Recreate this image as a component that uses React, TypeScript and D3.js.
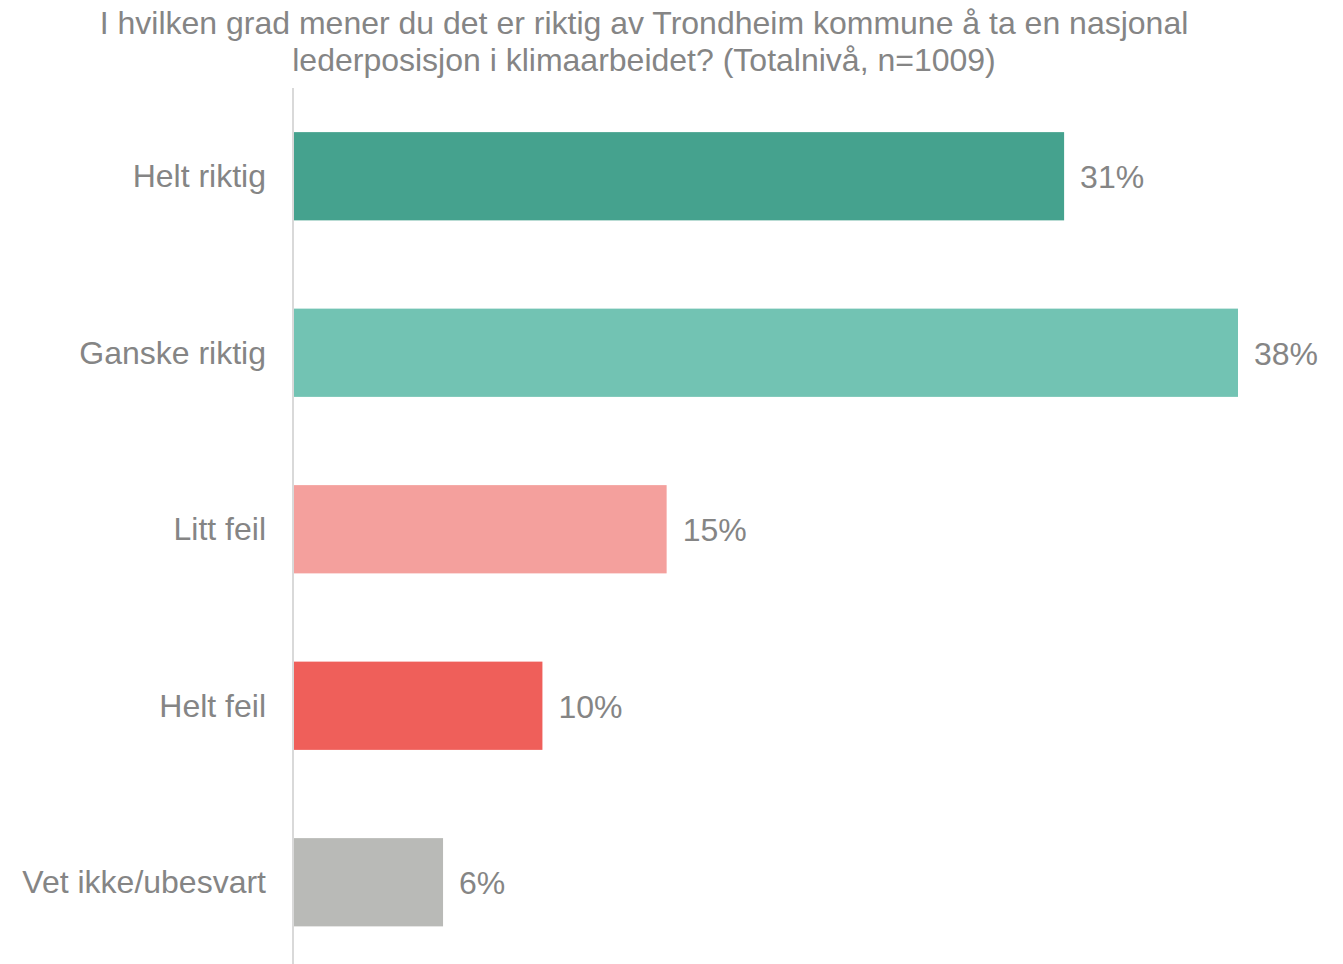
import * as d3 from "d3"

const categories = ["Helt riktig", "Ganske riktig", "Litt feil", "Helt feil", "Vet ikke/ubesvart"]
const values = [31, 38, 15, 10, 6]
const colors = ["#45a28e", "#72c3b3", "#f4a09d", "#ef5f5a", "#b9bab7"]
const titleLines = [
  "I hvilken grad mener du det er riktig av Trondheim kommune å ta en nasjonal",
  "lederposisjon i klimaarbeidet? (Totalnivå, n=1009)",
]

const W = 1343
const H = 964
const axisX = 293
const font = "'Liberation Sans', Arial, sans-serif"
const textColor = "#858585"

export default function App() {
  const x = d3.scaleLinear().domain([0, 38]).range([axisX + 1, 1238])
  const y = d3.scaleBand().domain(categories).range([88, 970.5]).paddingInner(0.5).paddingOuter(0.25)

  return (
    <svg
      width={W}
      height={H}
      style={{ position: "absolute", left: 0, top: 0, fontFamily: font }}
    >
      {/* title */}
      {titleLines.map((t, i) => (
        <text key={i} x={644} y={34 + i * 37} textAnchor="middle" fontSize={32} fill={textColor}>
          {t}
        </text>
      ))}

      {/* bars */}
      {categories.map((c, i) => (
        <g key={c}>
          <rect x={x(0)} y={y(c)} width={x(values[i]) - x(0)} height={y.bandwidth()} fill={colors[i]} />
          <text
            x={axisX - 27}
            y={(y(c) as number) + y.bandwidth() / 2}
            dy="0.35em"
            textAnchor="end"
            fontSize={32}
            fill={textColor}
          >
            {c}
          </text>
          <text
            x={x(values[i]) + 16}
            y={(y(c) as number) + y.bandwidth() / 2 + 1}
            dy="0.35em"
            fontSize={32}
            fill={textColor}
          >
            {values[i]}%
          </text>
        </g>
      ))}

      {/* axis line */}
      <line x1={axisX} x2={axisX} y1={88} y2={H} stroke="#d9d9d9" strokeWidth={2} />
    </svg>
  )
}
